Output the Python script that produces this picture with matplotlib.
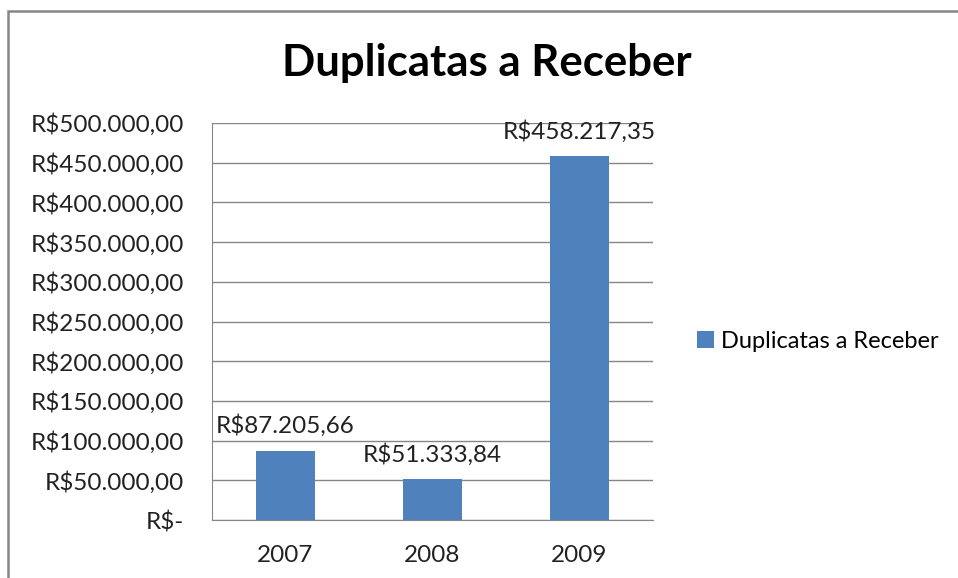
import matplotlib.pyplot as plt
from matplotlib.patches import Rectangle
from matplotlib.ticker import FuncFormatter

# dados
anos = ["2007", "2008", "2009"]
valores = [87205.66, 51333.84, 458217.35]
rotulos = ["R$87.205,66", "R$51.333,84", "R$458.217,35"]
serie = "Duplicatas a Receber"

plt.rcParams['font.family'] = ['Lato', 'DejaVu Sans']

def moeda(v, pos):
    if v == 0:
        return "R$-"
    s = f"{v:,.2f}".replace(",", "X").replace(".", ",").replace("X", ".")
    return "R$" + s

fig = plt.figure(figsize=(9.58, 5.78), dpi=100)
ax = fig.add_axes([212/958, 1-520/578, 441/958, 397/578])

x = range(len(anos))
barras = ax.bar(x, valores, width=0.4, color="#4f81bd", label=serie, zorder=3)
for i, b in enumerate(barras):
    ax.text(b.get_x() + b.get_width()/2, valores[i] + 17000, rotulos[i],
            ha="center", va="bottom", fontsize=17.5, color="#222222")

ax.set_xlim(-0.5, 2.5)
ax.set_ylim(0, 500000)
ax.set_yticks(range(0, 500001, 50000))
ax.yaxis.set_major_formatter(FuncFormatter(moeda))
ax.set_xticks(list(x))
ax.set_xticklabels(anos)
ax.tick_params(axis="both", length=0, labelsize=17.5, colors="#222222")
ax.tick_params(axis="x", pad=18)
ax.tick_params(axis="y", pad=20)
ax.grid(axis="y", color="#868686", linewidth=1, zorder=0)
for lado in ["top", "right"]:
    ax.spines[lado].set_visible(False)
for lado in ["left", "bottom"]:
    ax.spines[lado].set_color("#868686")

fig.text(487/958, 1-63/578, "Duplicatas a Receber", ha="center", va="center",
         fontsize=31.5, fontweight="bold")
ax.legend(loc="center left", bbox_to_anchor=((697-212)/441, (520-341)/397),
          frameon=False, borderpad=0, borderaxespad=0,
          fontsize=17, handlelength=0.7, handleheight=0.7, handletextpad=0.3)

# moldura
fig.add_artist(Rectangle((8/958, -0.1), 1.1, 1 - 11/578 + 0.1, transform=fig.transFigure,
                         fill=False, edgecolor="#868686", linewidth=1.8))

fig.savefig("out.png", dpi=100)
